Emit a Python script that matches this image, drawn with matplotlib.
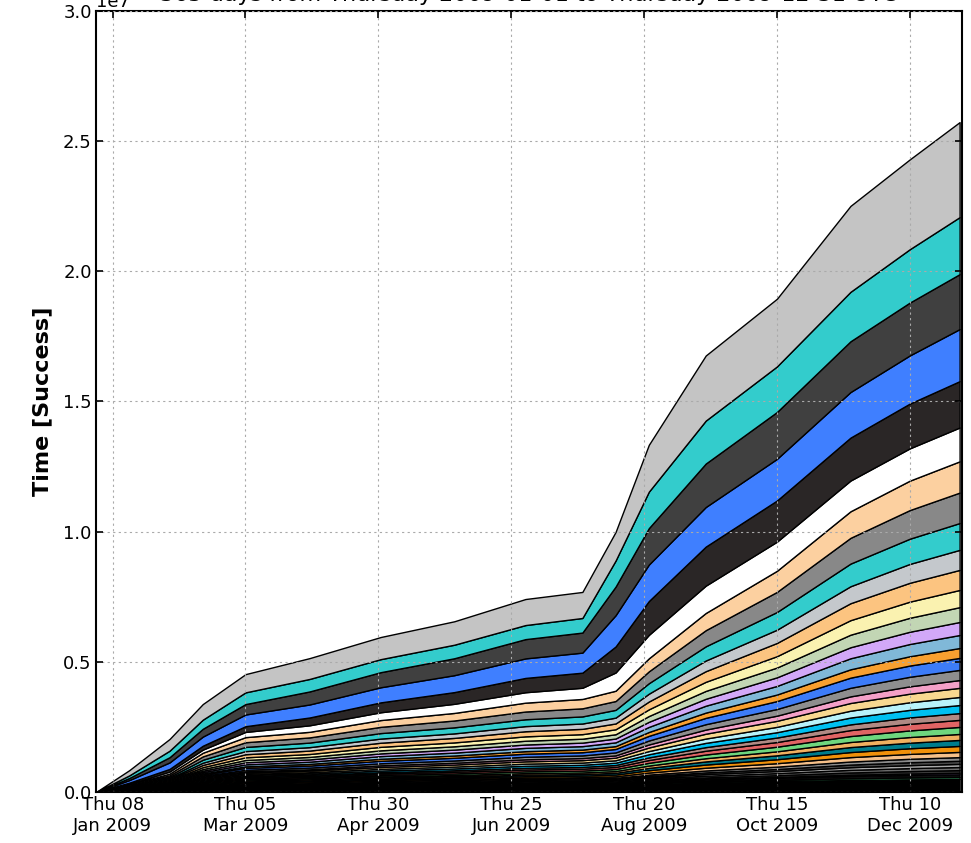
import pandas as pd
import numpy as np
import matplotlib
matplotlib.use('Agg')
import matplotlib.pyplot as plt
import matplotlib.dates as mdates

# sample dates (cumulative successful time, units of 1e3)
dates = ['2009-01-01', '2009-01-15', '2009-02-01', '2009-02-15', '2009-03-05',
         '2009-04-01', '2009-05-01', '2009-06-01', '2009-07-01', '2009-07-25',
         '2009-08-08', '2009-08-22', '2009-09-15', '2009-10-15', '2009-11-15',
         '2009-12-10', '2009-12-31']

# layers from bottom to top
l01 = [0, 30, 80, 150, 200, 220, 240, 260, 280, 290, 300, 340, 380, 420, 460, 485, 500]
l02 = [0, 2, 4, 9, 12, 14, 16, 18, 20, 21, 23, 31, 42, 53, 68, 75, 80]
l03 = [0, 2, 5, 11, 16, 17, 21, 23, 26, 27, 29, 39, 53, 66, 85, 94, 100]
l04 = [0, 1, 3, 7, 9, 10, 12, 14, 15, 16, 17, 23, 32, 40, 51, 56, 60]
l05 = [0, 3, 6, 12, 17, 18, 22, 24, 27, 28, 30, 40, 54, 67, 86, 95, 100]
l06 = [0, 2, 6, 13, 19, 20, 25, 27, 31, 32, 35, 47, 64, 79, 101, 113, 120]
l07 = [0, 3, 7, 14, 20, 22, 26, 28, 32, 33, 36, 48, 65, 80, 102, 114, 120]
l08 = [0, 2, 6, 13, 18, 20, 24, 26, 30, 31, 34, 46, 63, 78, 100, 112, 120]
l09 = [0, 3, 7, 15, 22, 24, 29, 32, 36, 37, 41, 55, 74, 92, 118, 132, 140]
l10 = [0, 4, 10, 22, 31, 34, 41, 45, 51, 53, 58, 78, 106, 132, 169, 188, 200]
l11 = [0, 5, 12, 25, 36, 39, 47, 52, 59, 61, 67, 90, 122, 152, 194, 216, 230]
l12 = [0, 4, 11, 24, 35, 38, 46, 51, 58, 60, 66, 88, 120, 150, 192, 215, 230]
l13 = [0, 5, 12, 26, 37, 40, 48, 53, 60, 62, 68, 91, 123, 153, 195, 217, 230]
l14 = [0, 5, 14, 30, 42, 46, 55, 61, 69, 72, 78, 105, 143, 178, 228, 254, 270]
l15 = [0, 6, 15, 31, 43, 47, 56, 62, 70, 73, 80, 107, 145, 180, 229, 255, 270]
l16 = [0, 5, 13, 29, 40, 44, 53, 59, 66, 69, 75, 101, 138, 172, 220, 244, 260]
l17 = [0, 6, 16, 34, 48, 53, 64, 70, 79, 82, 90, 121, 164, 205, 262, 291, 310]
l18 = [0, 7, 17, 35, 49, 54, 65, 71, 80, 83, 91, 122, 165, 206, 263, 292, 310]
l19 = [0, 7, 18, 39, 54, 60, 72, 79, 89, 93, 102, 137, 186, 231, 296, 329, 350]
l20 = [0, 6, 15, 33, 47, 51, 62, 68, 77, 80, 87, 117, 159, 198, 254, 282, 300]
l21 = [0, 8, 20, 43, 60, 66, 80, 88, 99, 103, 113, 152, 207, 257, 330, 367, 390]
l22 = [0, 9, 23, 51, 71, 78, 94, 104, 117, 122, 133, 179, 244, 304, 389, 432, 460]
l23 = [0, 8, 19, 42, 59, 65, 78, 86, 97, 101, 110, 148, 201, 251, 321, 357, 380]
l24 = [0, 10, 25, 55, 78, 85, 103, 113, 128, 133, 145, 195, 265, 330, 423, 470, 500]
l25 = [0, 11, 26, 56, 79, 86, 104, 114, 129, 134, 146, 196, 266, 331, 424, 471, 500]
l26 = [0, 11, 29, 63, 88, 97, 117, 128, 145, 151, 165, 222, 302, 376, 482, 536, 570]
l27 = [0, 13, 33, 73, 102, 112, 135, 149, 168, 175, 191, 257, 350, 436, 558, 620, 660]
l28 = [0, 15, 39, 85, 119, 131, 158, 173, 196, 204, 223, 300, 408, 508, 651, 724, 770]
l29 = [0, 16, 40, 86, 120, 132, 159, 174, 197, 205, 224, 301, 409, 509, 652, 725, 770]
l30 = [0, 21, 52, 113, 160, 175, 211, 232, 263, 273, 299, 402, 546, 680, 870, 968, 1030]
l31 = [0, 23, 59, 129, 181, 199, 240, 263, 298, 310, 339, 456, 620, 772, 989, 1100, 1170]
l32 = [0, 25, 65, 140, 195, 215, 260, 290, 340, 360, 395, 500, 660, 810, 1020, 1130, 1200]
l33 = [0, 30, 80, 120, 200, 250, 300, 350, 400, 430, 700, 900, 1050, 1120, 1180, 1240, 1300]
l34 = [0, 50, 100, 150, 220, 300, 380, 450, 550, 580, 1000, 1300, 1500, 1580, 1650, 1720, 1780]
l35 = [0, 100, 250, 350, 450, 500, 580, 650, 750, 770, 1200, 1400, 1520, 1600, 1750, 1850, 2000]
l36 = [0, 80, 200, 300, 400, 500, 580, 650, 740, 770, 1100, 1400, 1670, 1800, 1950, 2030, 2110]
l37 = [0, 100, 250, 350, 450, 480, 500, 520, 540, 560, 1000, 1400, 1650, 1750, 1900, 2050, 2190]
l38 = [0, 200, 450, 600, 700, 800, 850, 900, 1000, 1000, 1100, 1800, 2500, 2600, 3300, 3450, 3650]

layers = [l01, l02, l03, l04, l05, l06, l07, l08, l09, l10, l11, l12, l13,
          l14, l15, l16, l17, l18, l19, l20, l21, l22, l23, l24, l25, l26,
          l27, l28, l29, l30, l31, l32, l33, l34, l35, l36, l37, l38]

colours = ['#000000', '#2e8b57', '#111111', '#a07cd0', '#3a3a3a', '#6e6e6e',
           '#a8a8a8', '#4a4a4a', '#8c8c8c', '#f5c08a', '#f0900a', '#007c8c',
           '#f0b060', '#6ed67e', '#e06464', '#b08a84', '#00c0f0', '#b8f2fa',
           '#f8d890', '#f4a0c8', '#8e8e8e', '#3d7cf8', '#f8a030', '#80b8d8',
           '#d2a8f8', '#c2d6b4', '#faf2b0', '#fcc480', '#c4c8cc', '#33cccc',
           '#888888', '#fcd0a0', '#ffffff', '#2a2626', '#3f7fff', '#404040',
           '#33cccc', '#c4c4c4']

tick_dates = ['2009-01-08', '2009-03-05', '2009-04-30', '2009-06-25',
              '2009-08-20', '2009-10-15', '2009-12-10']

x = pd.to_datetime(dates)
y = np.array(layers, dtype=float) * 1e3

fig = plt.figure(figsize=(9.71, 8.43), dpi=100)
ax = fig.add_axes([0.0989, 0.0605, 0.8918, 0.9265])

polys = ax.stackplot(x, y, colors=colours, edgecolor='black', linewidth=1.0)

ax.set_xlim(pd.Timestamp('2009-01-01'), pd.Timestamp('2010-01-01'))
ax.set_ylim(0, 3e7)
ax.set_yticks(np.arange(0, 3.01e7, 0.5e7))
ax.set_xticks(pd.to_datetime(tick_dates))
ax.xaxis.set_major_formatter(mdates.DateFormatter('%a %d\n%b %Y'))

ax.grid(True, color='#aaaaaa', linestyle=(0, (2, 3)), linewidth=0.8)
ax.set_axisbelow(False)
for s in ax.spines.values():
    s.set_linewidth(1.5)
ax.tick_params(direction='in', length=5, width=1.2, top=True, right=True,
               labelsize=13, pad=3)
ax.yaxis.get_offset_text().set_fontsize(13)

ax.set_ylabel('Time [Success]', fontsize=16, fontweight='bold', labelpad=8)
ax.set_title('365 days from Thursday 2009-01-01 to Thursday 2009-12-31 UTC',
             fontsize=16, pad=7)

plt.savefig('out.png', dpi=100)
